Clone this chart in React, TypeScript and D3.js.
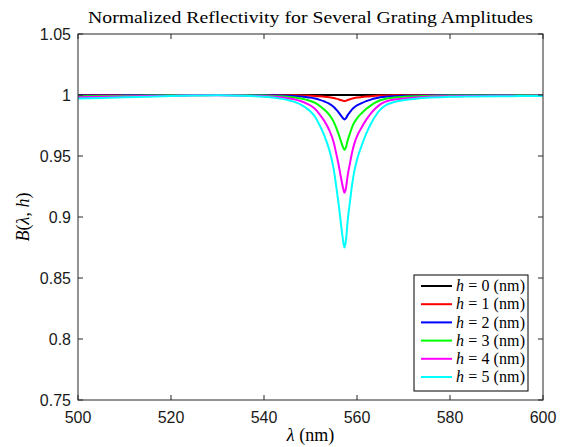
import React from "react";
import * as d3 from "d3";

const lambda = [500, 505, 510, 515, 520, 525, 530, 535, 540, 543, 545, 547, 548, 549, 550, 551, 552, 553, 554, 555, 555.5, 556, 556.5, 557, 557.3, 557.6, 558, 558.5, 559, 559.5, 560, 561, 562, 563, 564, 565, 566, 568, 570, 575, 580, 585, 590, 595, 600];

const h0 = [1, 1, 1, 1, 1, 1, 1, 1, 1, 1, 1, 1, 1, 1, 1, 1, 1, 1, 1, 1, 1, 1, 1, 1, 1, 1, 1, 1, 1, 1, 1, 1, 1, 1, 1, 1, 1, 1, 1, 1, 1, 1, 1, 1, 1];
const h1 = [0.99989, 0.9999, 0.99992, 0.99994, 0.99996, 0.99998, 0.99999, 0.99998, 0.99994, 0.99989, 0.99984, 0.99975, 0.99968, 0.99958, 0.99946, 0.99928, 0.999, 0.99866, 0.99822, 0.99756, 0.99704, 0.99648, 0.99584, 0.99524, 0.995, 0.9952, 0.99588, 0.99652, 0.99712, 0.99756, 0.99788, 0.99834, 0.99874, 0.99906, 0.99932, 0.99952, 0.99965, 0.99977, 0.99983, 0.99991, 0.99994, 0.99995, 0.99996, 0.99996, 0.99997];
const h2 = [0.99955, 0.99962, 0.9997, 0.99978, 0.99986, 0.99992, 0.99995, 0.9999, 0.99976, 0.99957, 0.99936, 0.99901, 0.99872, 0.99832, 0.99784, 0.99712, 0.996, 0.99464, 0.99288, 0.99024, 0.98816, 0.98592, 0.98336, 0.98096, 0.98, 0.9808, 0.98352, 0.98608, 0.98848, 0.99024, 0.99152, 0.99336, 0.99496, 0.99624, 0.99728, 0.99808, 0.99859, 0.99907, 0.99931, 0.99965, 0.99976, 0.99981, 0.99984, 0.99986, 0.99987];
const h3 = [0.999, 0.9991, 0.9993, 0.9995, 0.9997, 0.9998, 0.9999, 0.9998, 0.9995, 0.999, 0.9986, 0.9978, 0.9971, 0.9962, 0.9951, 0.9935, 0.991, 0.9879, 0.984, 0.978, 0.9734, 0.9683, 0.9626, 0.9572, 0.955, 0.9568, 0.9629, 0.9687, 0.9741, 0.978, 0.9809, 0.9851, 0.9887, 0.9915, 0.9939, 0.9957, 0.9968, 0.9979, 0.9985, 0.9992, 0.9995, 0.9996, 0.9996, 0.9997, 0.9997];
const h4 = [0.9982, 0.9985, 0.9988, 0.9991, 0.9994, 0.9997, 0.9998, 0.9996, 0.999, 0.9983, 0.9974, 0.996, 0.9949, 0.9933, 0.9914, 0.9885, 0.984, 0.9786, 0.9715, 0.961, 0.9526, 0.9437, 0.9334, 0.9238, 0.92, 0.9232, 0.9341, 0.9443, 0.9539, 0.961, 0.9661, 0.9734, 0.9798, 0.985, 0.9891, 0.9923, 0.9944, 0.9963, 0.9972, 0.9986, 0.999, 0.9992, 0.9994, 0.9994, 0.9995];
const h5 = [0.9972, 0.9976, 0.9981, 0.9986, 0.9991, 0.9995, 0.9997, 0.9994, 0.9985, 0.9973, 0.996, 0.9938, 0.992, 0.9895, 0.9865, 0.982, 0.975, 0.9665, 0.9555, 0.939, 0.926, 0.912, 0.896, 0.881, 0.875, 0.88, 0.897, 0.913, 0.928, 0.939, 0.947, 0.9585, 0.9685, 0.9765, 0.983, 0.988, 0.9912, 0.9942, 0.9957, 0.9978, 0.9985, 0.9988, 0.999, 0.9991, 0.9992];

const seriesValues = [h0, h1, h2, h3, h4, h5];
const seriesNames = ["0", "1", "2", "3", "4", "5"];
const seriesColors = ["#000000", "#ff0000", "#0000ff", "#00ff00", "#ff00ff", "#00ffff"];

const xTicks = [500, 520, 540, 560, 580, 600];
const yTicks = [0.75, 0.8, 0.85, 0.9, 0.95, 1, 1.05];

const W = 568;
const H = 447;
const L = 78, R = 543, T = 34, B = 400;

export default function App() {
  const x = d3.scaleLinear().domain([500, 600]).range([L, R]);
  const y = d3.scaleLinear().domain([0.75, 1.05]).range([B, T]);
  const line = d3
    .line<number>()
    .x((_, i) => x(lambda[i]))
    .y((d) => y(d))
    .curve(d3.curveMonotoneX);

  const tickLen = 5;
  const axisColor = "#262626";
  const sans = "'Liberation Sans', Arial, Helvetica, sans-serif";
  const serif = "'Liberation Serif', 'Times New Roman', serif";

  const legX = 414, legY = 275, legW = 114, legH = 116, rowH = 18.2;

  return (
    <svg width={W} height={H} style={{ position: "absolute", left: 0, top: 0, background: "#fff" }}>
      <rect x={0} y={0} width={W} height={H} fill="#fff" />
      <text x={(L + R) / 2} y={23} textAnchor="middle" fontFamily={serif} fontSize={17} textLength={445} lengthAdjust="spacingAndGlyphs" fill="#000">
        Normalized Reflectivity for Several Grating Amplitudes
      </text>

      <defs>
        <clipPath id="plotclip">
          <rect x={L} y={T} width={R - L} height={B - T} />
        </clipPath>
      </defs>
      <g clipPath="url(#plotclip)">
        {seriesValues.map((vals, k) => (
          <path key={k} d={line(vals) || ""} fill="none" stroke={seriesColors[k]} strokeWidth={2} strokeLinejoin="round" />
        ))}
      </g>

      <rect x={L} y={T} width={R - L} height={B - T} fill="none" stroke={axisColor} strokeWidth={1} />

      {xTicks.map((t) => (
        <g key={"x" + t}>
          <line x1={x(t)} x2={x(t)} y1={B} y2={B - tickLen} stroke={axisColor} />
          <line x1={x(t)} x2={x(t)} y1={T} y2={T + tickLen} stroke={axisColor} />
          <text x={x(t)} y={423} textAnchor="middle" fontFamily={sans} fontSize={16} fill="#1a1a1a">
            {t}
          </text>
        </g>
      ))}
      {yTicks.map((t) => (
        <g key={"y" + t}>
          <line x1={L} x2={L + tickLen} y1={y(t)} y2={y(t)} stroke={axisColor} />
          <line x1={R} x2={R - tickLen} y1={y(t)} y2={y(t)} stroke={axisColor} />
          <text x={71} y={y(t)} dy="0.36em" textAnchor="end" fontFamily={sans} fontSize={16} fill="#1a1a1a">
            {String(t)}
          </text>
        </g>
      ))}

      <text x={(L + R) / 2} y={441} textAnchor="middle" fontFamily={serif} fontSize={18} fill="#000">
        <tspan fontStyle="italic">λ</tspan> (nm)
      </text>

      <text transform={`translate(29, ${(T + B) / 2}) rotate(-90)`} textAnchor="middle" fontFamily={serif} fontSize={18} fill="#000">
        <tspan fontStyle="italic">B</tspan>(<tspan fontStyle="italic">λ</tspan>, <tspan fontStyle="italic">h</tspan>)
      </text>

      <g>
        <rect x={legX} y={legY} width={legW} height={legH} fill="#fff" stroke="#000" strokeWidth={1} />
        {seriesNames.map((n, k) => {
          const cy = legY + 11 + k * rowH;
          return (
            <g key={"leg" + k}>
              <line x1={421} x2={452} y1={cy} y2={cy} stroke={seriesColors[k]} strokeWidth={2} />
              <text x={456} y={cy} dy="0.33em" fontFamily={serif} fontSize={16} textLength={69} lengthAdjust="spacing" fill="#000">
                <tspan fontStyle="italic">h</tspan> = {n} (nm)
              </text>
            </g>
          );
        })}
      </g>
    </svg>
  );
}
